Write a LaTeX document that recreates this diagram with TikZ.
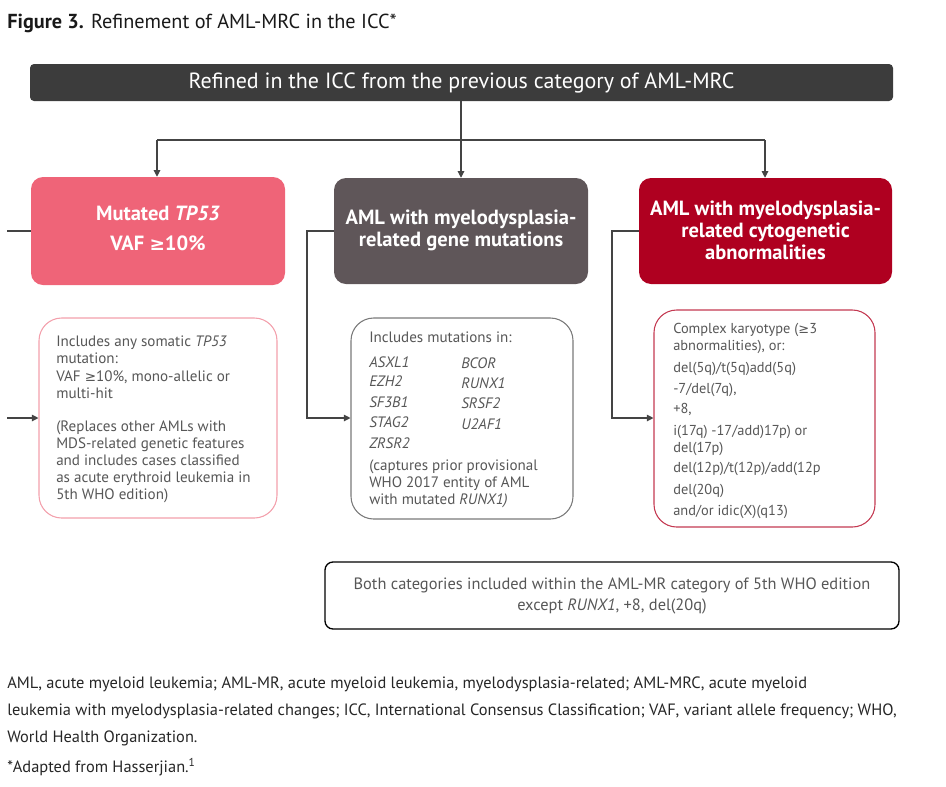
\documentclass[tikz,border=0pt]{standalone}
\usepackage{fontspec}
\setmainfont{PT Sans}
\newfontfamily\symf{DejaVu Sans}
\newcommand{\gez}{{\symf\scalebox{0.9}{≥}}}
\usetikzlibrary{arrows.meta}
\definecolor{barc}{HTML}{3C3C3C}
\definecolor{pinkc}{HTML}{EF6478}
\definecolor{grayc}{HTML}{5F5659}
\definecolor{redc}{HTML}{AF0020}
\definecolor{pinkl}{HTML}{F3A0AC}
\definecolor{grayl}{HTML}{7A7A7A}
\definecolor{redl}{HTML}{C43A52}
\definecolor{txt}{HTML}{575757}
\definecolor{linec}{HTML}{444444}
\tikzset{
  hdr/.style={rounded corners=9pt, inner sep=0pt, text=white, font=\fontsize{15.4}{16.5}\selectfont\bfseries, align=center},
  lowbox/.style={rounded corners=17pt, line width=0.8pt, fill=white, inner sep=0pt},
  lt/.style={anchor=base west, inner sep=0pt, text=txt, font=\fontsize{11.3}{13}\selectfont},
  conn/.style={draw=linec, line width=0.8pt},
  arr/.style={conn, -{Triangle[length=5pt,width=5pt]}},
  fn/.style={anchor=base west, inner sep=0pt, text=black!85, font=\fontsize{12.3}{13}\selectfont},
}
\begin{document}
\begin{tikzpicture}[x=0.75pt,y=-0.75pt]
\useasboundingbox (0,0) rectangle (946,786);
% title
\node[anchor=base west, inner sep=0pt, font=\fontsize{15.2}{16}\selectfont, text=black!90] (title) at (7,28) {\textbf{Figure 3.} Refinement of AML-MRC in the ICC*};
% top bar
\node[fill=barc, rounded corners=3pt, minimum width=863*0.75pt, minimum height=37*0.75pt, inner sep=0pt, text=white, font=\fontsize{16.5}{17}\selectfont] (bar) at (461.5,82.5) {Refined in the ICC from the previous category of AML-MRC};
% header boxes
\node[hdr, fill=pinkc, minimum width=254*0.75pt, minimum height=108*0.75pt] (h1) at (158,231) {};
\node[hdr, fill=grayc, minimum width=254*0.75pt, minimum height=106*0.75pt] (h2) at (461,231) {};
\node[hdr, fill=redc, minimum width=253*0.75pt, minimum height=106*0.75pt] (h3) at (765.5,231) {};
\node[hdr] (h1t) at (158,228) {Mutated \textit{TP53}\\[6pt]VAF \gez10\%};
\node[hdr] (h2t) at (461,230) {AML with myelodysplasia-\\related gene mutations};
\node[hdr] (h3t) at (765.5,230) {AML with myelodysplasia-\\related cytogenetic\\abnormalities};
% connectors from bar
\coordinate (jL) at (157,140);
\coordinate (jR) at (765,140);
\draw[arr] (bar.south -| h2.north) -- (h2.north);
\draw[conn] (jL) -- (jR);
\draw[arr] (jL) -- (jL |- h1.north);
\draw[arr] (jR) -- (jR |- h3.north);
% lower boxes
\node[lowbox, draw=pinkl, minimum width=238*0.75pt, minimum height=200*0.75pt] (b1) at (158,418) {};
\node[lowbox, draw=grayl, minimum width=222*0.75pt, minimum height=201*0.75pt] (b2) at (462,418.5) {};
\node[lowbox, draw=redl, minimum width=221*0.75pt, minimum height=217*0.75pt] (b3) at (764.5,418.5) {};
% side connectors
\coordinate (l1a) at (7,231);
\coordinate (l1b) at (7,418);
\draw[conn] (l1a) -- (h1.west |- l1a);
\draw[arr] (l1b) -- (b1.west |- l1b);
\coordinate (c2) at (307,231);
\coordinate (d2) at (307,418);
\draw[arr] (h2.west |- c2) -- (c2) -- (d2) -- (b2.west |- d2);
\coordinate (c3) at (612,231);
\coordinate (d3) at (612,418);
\draw[arr] (h3.west |- c3) -- (c3) -- (d3) -- (b3.west |- d3);
% box 1 text
\node[lt] (t11) at (56,346) {Includes any somatic \textit{TP53}};
\node[lt] (t12) at (56,363) {mutation:};
\node[lt] (t13) at (56,381) {VAF \gez10\%, mono-allelic or};
\node[lt] (t14) at (56,398) {multi-hit};
\node[lt] (t15) at (56,431) {(Replaces other AMLs with};
\node[lt] (t16) at (56,448) {MDS-related genetic features};
\node[lt] (t17) at (56,465) {and includes cases classified};
\node[lt] (t18) at (56,482) {as acute erythroid leukemia in};
\node[lt] (t19) at (56,499) {5th WHO edition)};
% box 2 text
\node[lt] (t21) at (369,342) {Includes mutations in:};
\node[lt] (t22) at (369,367) {\textit{ASXL1}};
\node[lt] (t23) at (369,386) {\textit{EZH2}};
\node[lt] (t24) at (369,407) {\textit{SF3B1}};
\node[lt] (t25) at (369,427) {\textit{STAG2}};
\node[lt] (t26) at (369,448) {\textit{ZRSR2}};
\node[lt] (t2a) at (461,368) {\textit{BCOR}};
\node[lt] (t2b) at (461,388) {\textit{RUNX1}};
\node[lt] (t2c) at (461,408) {\textit{SRSF2}};
\node[lt] (t2d) at (461,429) {\textit{U2AF1}};
\node[lt] (t27) at (369,470) {(captures prior provisional};
\node[lt] (t28) at (369,487) {WHO 2017 entity of AML};
\node[lt] (t29) at (369,504) {with mutated \textit{RUNX1)}};
% box 3 text
\node[lt, font=\fontsize{10.8}{13}\selectfont] (t31) at (673,333) {Complex karyotype (\gez3};
\node[lt, font=\fontsize{10.8}{13}\selectfont] (t32) at (673,350) {abnormalities), or:};
\node[lt, font=\fontsize{10.8}{13}\selectfont] (t33) at (673,372) {del(5q)/t(5q)add(5q)};
\node[lt, font=\fontsize{10.8}{13}\selectfont] (t34) at (673,393) {-7/del(7q),};
\node[lt, font=\fontsize{10.8}{13}\selectfont] (t35) at (673,413) {+8,};
\node[lt, font=\fontsize{10.8}{13}\selectfont] (t36) at (673,435) {i(17q) -17/add)17p) or};
\node[lt, font=\fontsize{10.8}{13}\selectfont] (t37) at (673,452) {del(17p)};
\node[lt, font=\fontsize{10.8}{13}\selectfont] (t38) at (673,472) {del(12p)/t(12p)/add(12p};
\node[lt, font=\fontsize{10.8}{13}\selectfont] (t39) at (673,494) {del(20q)};
\node[lt, font=\fontsize{10.8}{13}\selectfont] (t3a) at (673,515) {and/or idic(X)(q13)};
% bottom box
\node[draw=black, line width=1pt, rounded corners=6pt, minimum width=574*0.75pt, minimum height=67*0.75pt, inner sep=0pt, text=txt, font=\fontsize{12.3}{15.8}\selectfont, align=center] (bot) at (612,595.5) {Both categories included within the AML-MR category of 5th WHO edition\\except \textit{RUNX1}, +8, del(20q)};
% footnotes
\node[fn] (f1) at (7,688) {AML, acute myeloid leukemia; AML-MR, acute myeloid leukemia, myelodysplasia-related; AML-MRC, acute myeloid};
\node[fn] (f2) at (7,715) {leukemia with myelodysplasia-related changes; ICC, International Consensus Classification; VAF, variant allele frequency; WHO,};
\node[fn] (f3) at (7,742) {World Health Organization.};
\node[fn] (f4) at (7,772) {*Adapted from Hasserjian.\textsuperscript{1}};
\end{tikzpicture}
\end{document}
